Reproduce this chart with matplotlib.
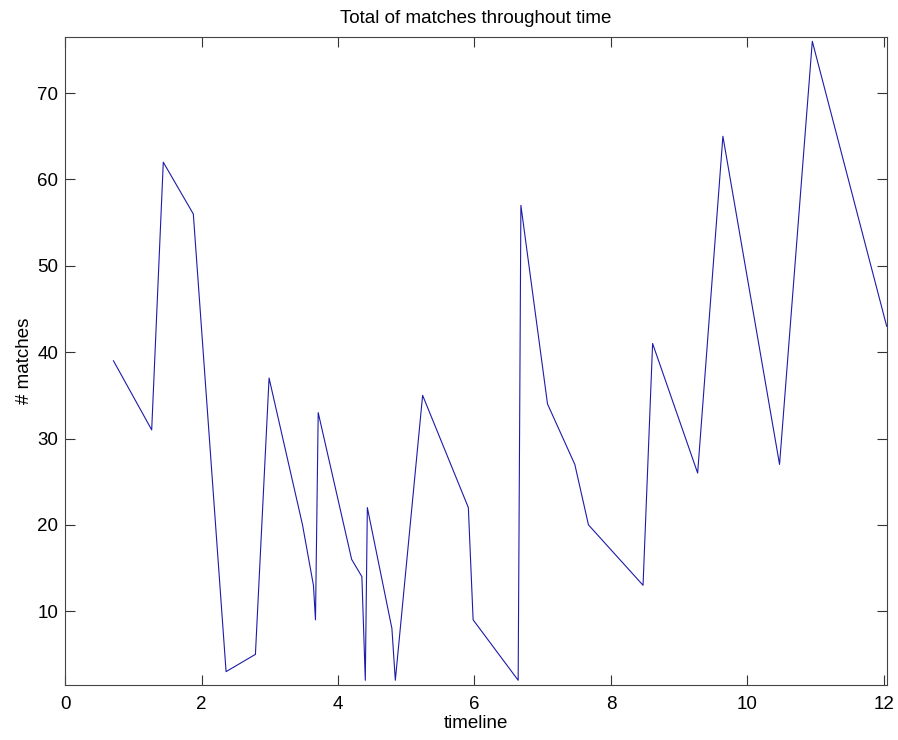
import matplotlib
matplotlib.use('Agg')
import matplotlib.pyplot as plt

# values
timeline = [0.71, 1.27, 1.44, 1.88, 2.36, 2.79, 2.99, 3.48, 3.64, 3.67, 3.71,
            4.20, 4.35, 4.40, 4.43, 4.79, 4.84, 5.24, 5.91, 5.98, 6.64, 6.68,
            7.07, 7.47, 7.67, 8.47, 8.61, 9.27, 9.64, 10.47, 10.95, 12.04]
matches = [39, 31, 62, 56, 3, 5, 37, 20, 13, 9, 33,
           16, 14, 2, 22, 8, 2, 35, 22, 9, 2, 57,
           34, 27, 20, 13, 41, 26, 65, 27, 76, 43]
xticks = [0, 2, 4, 6, 8, 10, 12]
yticks = [10, 20, 30, 40, 50, 60, 70]

plt.rcParams['font.family'] = ['Liberation Sans', 'DejaVu Sans']

fig = plt.figure(figsize=(8.98, 7.40), dpi=100)
ax = fig.add_axes([0.0724, 0.0743, 0.915, 0.8757])
ax.plot(timeline, matches, color='#1c1ca8', linewidth=0.8)

ax.set_xlim(0, 12.04)
ax.set_ylim(1.45, 76.5)
ax.set_xticks(xticks)
ax.set_yticks(yticks)
ax.tick_params(direction='in', top=True, right=True, length=7, width=0.8,
               labelsize=13.5, colors='#333333', labelcolor='black')
ax.tick_params(axis='x', pad=8)
ax.tick_params(axis='y', pad=5)
for s in ax.spines.values():
    s.set_linewidth(0.8)
    s.set_color('#444444')

ax.set_title('Total of matches throughout time', fontsize=13.5, pad=10)
ax.set_xlabel('timeline', fontsize=13.5, labelpad=1)
ax.set_ylabel('# matches', fontsize=13.5, labelpad=3)

fig.savefig('out.png', dpi=100)
